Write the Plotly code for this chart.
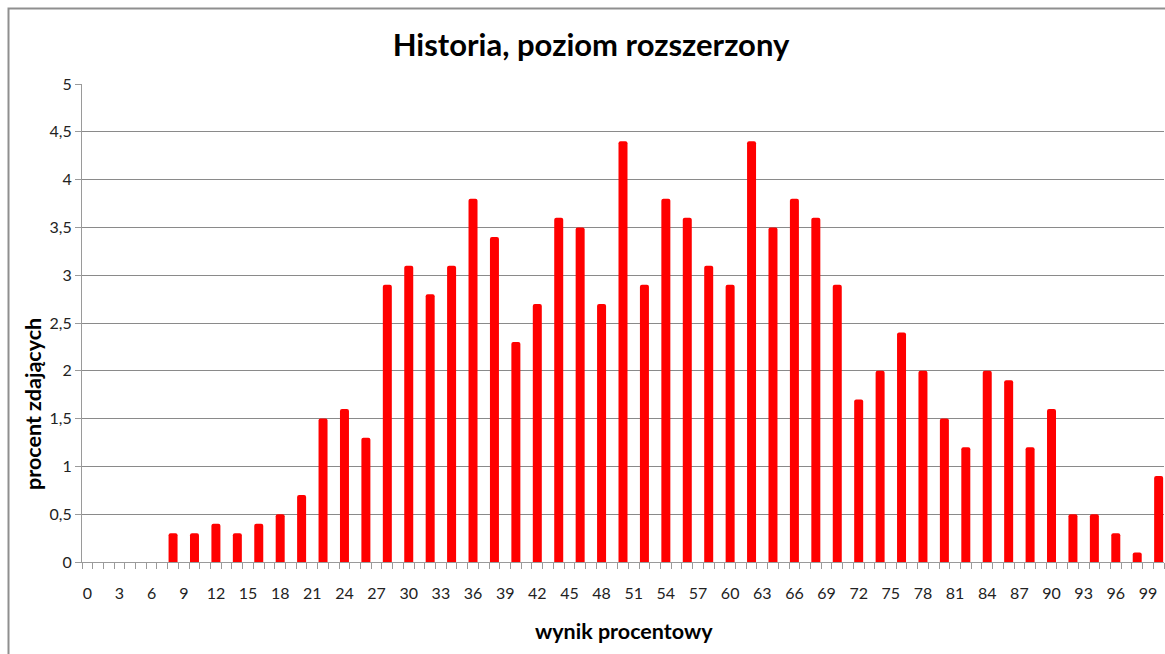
import plotly.graph_objects as go

# Data
scores = list(range(0, 101))
bar_scores = [8, 10, 12, 14, 16, 18, 20, 22, 24, 26, 28, 30, 32, 34, 36, 38, 40, 42, 44, 46,
              48, 50, 52, 54, 56, 58, 60, 62, 64, 66, 68, 70, 72, 74, 76, 78, 80, 82, 84, 86,
              88, 90, 92, 94, 96, 98, 100]
bar_values = [0.3, 0.3, 0.4, 0.3, 0.4, 0.5, 0.7, 1.5, 1.6, 1.3, 2.9, 3.1, 2.8, 3.1, 3.8, 3.4,
              2.3, 2.7, 3.6, 3.5, 2.7, 4.4, 2.9, 3.8, 3.6, 3.1, 2.9, 4.4, 3.5, 3.8, 3.6, 2.9,
              1.7, 2.0, 2.4, 2.0, 1.5, 1.2, 2.0, 1.9, 1.2, 1.6, 0.5, 0.5, 0.3, 0.1, 0.9]
tick_labels = [str(v) for v in range(0, 100, 3)]
y_ticks = [0, 0.5, 1, 1.5, 2, 2.5, 3, 3.5, 4, 4.5, 5]

title_text = "Historia, poziom rozszerzony"
x_title = "wynik procentowy"
y_title = "procent zdających"

FONT = "Lato"
W, H = 1165, 654
ML, MR, MT, MB = 82, 1, 84, 92
PW = W - ML - MR
PH = H - MT - MB

def px_x(px):
    return (px - ML) / PW

def px_y(py):
    return (H - MB - py) / PH

boundaries = [s - 0.5 for s in scores] + [scores[-1] + 0.5]
xrange_ = [scores[0] - 0.5, scores[-1] + 0.5]

fig = go.Figure()
fig.add_trace(go.Bar(
    x=bar_scores, y=bar_values,
    marker=dict(color="#FF0000", line=dict(width=0)),
    width=0.84,
    hoverinfo="x+y",
))

grey = "#9a9a9a"

fig.update_layout(
    width=W, height=H,
    margin=dict(l=ML, r=MR, t=MT, b=MB),
    paper_bgcolor="white", plot_bgcolor="white",
    separators=", ",
    showlegend=False,
    barcornerradius=2,
    font=dict(family=FONT, size=16, color="#222222"),
    title=dict(text=title_text, x=591 / W, xanchor="center", xref="container",
               y=1 - 45 / H, yanchor="middle", yref="container",
               font=dict(family=FONT, size=31, color="#000000", weight="bold")),
    xaxis=dict(
        range=xrange_, tickmode="array", tickvals=list(range(0, 100, 3)), ticktext=tick_labels,
        ticks="", showgrid=False, zeroline=False,
        showline=True, linecolor=grey, linewidth=1,
        ticklabelstandoff=17,
        tickfont=dict(family=FONT, size=16, color="#222222"),
        minor=dict(tickmode="array", tickvals=boundaries, ticks="outside",
                   ticklen=6, tickwidth=1, tickcolor=grey, showgrid=False),
        fixedrange=True,
    ),
    xaxis2=dict(
        overlaying="x", anchor="y", side="bottom", range=xrange_,
        tickmode="array", tickvals=boundaries, ticks="inside", ticklen=6,
        tickwidth=1, tickcolor=grey, showticklabels=False, showgrid=False,
        zeroline=False, showline=False,
    ),
    yaxis=dict(
        range=[0, 5], tickmode="array", tickvals=y_ticks,
        ticks="outside", ticklen=6, tickcolor=grey, tickwidth=1,
        showgrid=True, gridcolor="#8a8a8a", gridwidth=1,
        zeroline=False, showline=True, linecolor=grey, linewidth=1,
        ticklabelstandoff=0,
        tickfont=dict(family=FONT, size=16, color="#222222"),
        fixedrange=True,
    ),
    annotations=[
        dict(text=x_title, xref="paper", yref="paper", x=px_x(624), y=px_y(631),
             xanchor="center", yanchor="middle", showarrow=False,
             font=dict(family=FONT, size=21.5, color="#000000", weight="bold")),
        dict(text=y_title, xref="paper", yref="paper", x=px_x(33), y=px_y(404),
             xanchor="center", yanchor="middle", showarrow=False, textangle=-90,
             font=dict(family=FONT, size=21.5, color="#000000", weight="bold")),
    ],
    shapes=[
        dict(type="rect", xref="paper", yref="paper",
             x0=px_x(8.5), x1=px_x(W + 20), y0=px_y(H + 20), y1=px_y(8.5),
             line=dict(color="#8f8f8f", width=2), fillcolor="rgba(0,0,0,0)", layer="below"),
    ],
)

fig.write_html("out.html",
               config={"displayModeBar": False},
               post_script="document.body.style.margin='0';document.body.style.overflow='hidden';")
